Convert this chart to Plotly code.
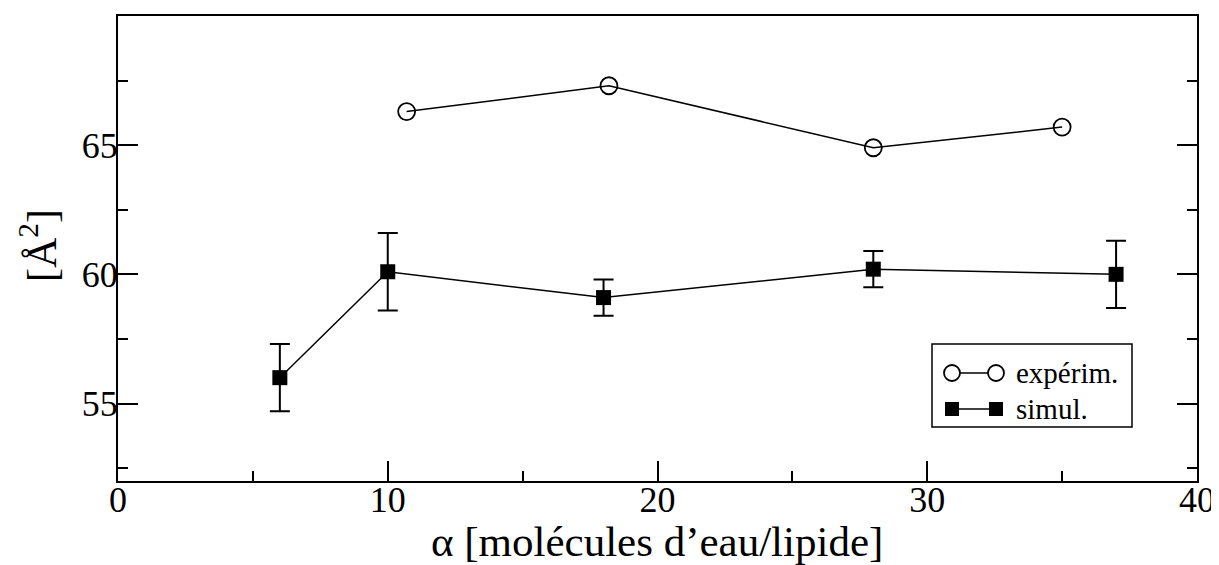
import plotly.graph_objects as go

# Data
exp_x = [10.7, 18.2, 28.0, 35.0]
exp_y = [66.3, 67.3, 64.9, 65.7]

sim_x = [6, 10, 18, 28, 37]
sim_y = [56.0, 60.1, 59.1, 60.2, 60.0]
sim_err = [1.3, 1.5, 0.7, 0.7, 1.3]

x_ticks = [0, 10, 20, 30, 40]
y_ticks = [55, 60, 65]

series_names = ["expérim.", "simul."]

FONT = "Liberation Serif, Times New Roman, serif"

# page has an 8px default body margin; compensate so the figure fills 1219x565
OFF = 8
W, H = 1219 - OFF, 565 - OFF
L, R, T, B = 118 - OFF, 22, 16 - OFF, 84
PW, PH = W - L - R, H - T - B


def px(X):  # page pixel -> paper
    return (X - OFF - L) / PW


def py(Y):  # page pixel -> paper
    return (H - B - (Y - OFF)) / PH


fig = go.Figure()
fig.add_trace(go.Scatter(
    x=exp_x, y=exp_y, mode="lines+markers", name=series_names[0],
    line=dict(color="black", width=1.5),
    marker=dict(symbol="circle-open", size=17, color="black", line=dict(width=1.8)),
    showlegend=False,
))
fig.add_trace(go.Scatter(
    x=sim_x, y=sim_y, mode="lines+markers", name=series_names[1],
    line=dict(color="black", width=1.5),
    marker=dict(symbol="square", size=15, color="black"),
    error_y=dict(type="data", array=sim_err, visible=True, color="black", thickness=2, width=10),
    showlegend=False,
))

# Custom legend (box with marker-line-marker glyphs)
shapes = []
annotations = []
shapes.append(dict(type="rect", xref="paper", yref="paper",
                   x0=px(932), x1=px(1132), y0=py(427), y1=py(344),
                   line=dict(color="black", width=1.5), fillcolor="white", layer="above"))
rows = [(373, "circle"), (409, "square")]
for (yy, kind), name in zip(rows, series_names):
    shapes.append(dict(type="line", xref="paper", yref="paper",
                       x0=px(952), x1=px(996), y0=py(yy), y1=py(yy),
                       line=dict(color="black", width=1.5), layer="above"))
    for cx in (952, 996):
        if kind == "circle":
            r = 8
            shapes.append(dict(type="circle", xref="paper", yref="paper",
                               x0=px(cx - r), x1=px(cx + r), y0=py(yy + r), y1=py(yy - r),
                               line=dict(color="black", width=1.8), fillcolor="white", layer="above"))
        else:
            r = 7
            shapes.append(dict(type="rect", xref="paper", yref="paper",
                               x0=px(cx - r), x1=px(cx + r), y0=py(yy + r), y1=py(yy - r),
                               line=dict(color="black", width=0), fillcolor="black", layer="above"))
    annotations.append(dict(text=name, xref="paper", yref="paper", x=px(1014), y=py(yy),
                            xanchor="left", yanchor="middle", showarrow=False,
                            font=dict(size=29, family=FONT, color="black")))

# Axis titles
annotations.append(dict(text="α [molécules d’eau/lipide]", xref="paper", yref="paper",
                        x=px(657), y=py(541), xanchor="center", yanchor="middle", showarrow=False,
                        font=dict(size=43, family=FONT, color="black")))
annotations.append(dict(text="[Å<sup>2</sup>]", xref="paper", yref="paper",
                        x=px(38), y=py(246), xanchor="center", yanchor="middle", showarrow=False,
                        textangle=-90, font=dict(size=42, family=FONT, color="black")))

fig.update_layout(
    width=W, height=H,
    margin=dict(l=L, r=R, t=T, b=B, autoexpand=False),
    plot_bgcolor="white", paper_bgcolor="white",
    font=dict(family=FONT, color="black", size=36),
    showlegend=False,
    shapes=shapes,
    annotations=annotations,
    xaxis=dict(
        range=[0, 40], tickvals=x_ticks, ticktext=[str(v) for v in x_ticks],
        ticks="inside", ticklen=20, tickwidth=1.5, tickcolor="black",
        minor=dict(dtick=5, ticks="inside", ticklen=10, tickwidth=1.5, tickcolor="black", showgrid=False),
        showline=True, linecolor="black", linewidth=2, mirror=True,
        showgrid=False, zeroline=False, automargin=False,
        tickfont=dict(size=36, family=FONT),
        ticklabelstandoff=-14,
    ),
    yaxis=dict(
        range=[52, 70], tickvals=y_ticks, ticktext=[str(v) for v in y_ticks],
        ticks="inside", ticklen=20, tickwidth=1.5, tickcolor="black",
        minor=dict(dtick=2.5, tick0=0, ticks="inside", ticklen=10, tickwidth=1.5, tickcolor="black", showgrid=False),
        showline=True, linecolor="black", linewidth=2, mirror="ticks",
        showgrid=False, zeroline=False, automargin=False,
        tickfont=dict(size=36, family=FONT),
        ticklabelstandoff=-9,
    ),
)

fig.write_html("out.html")
